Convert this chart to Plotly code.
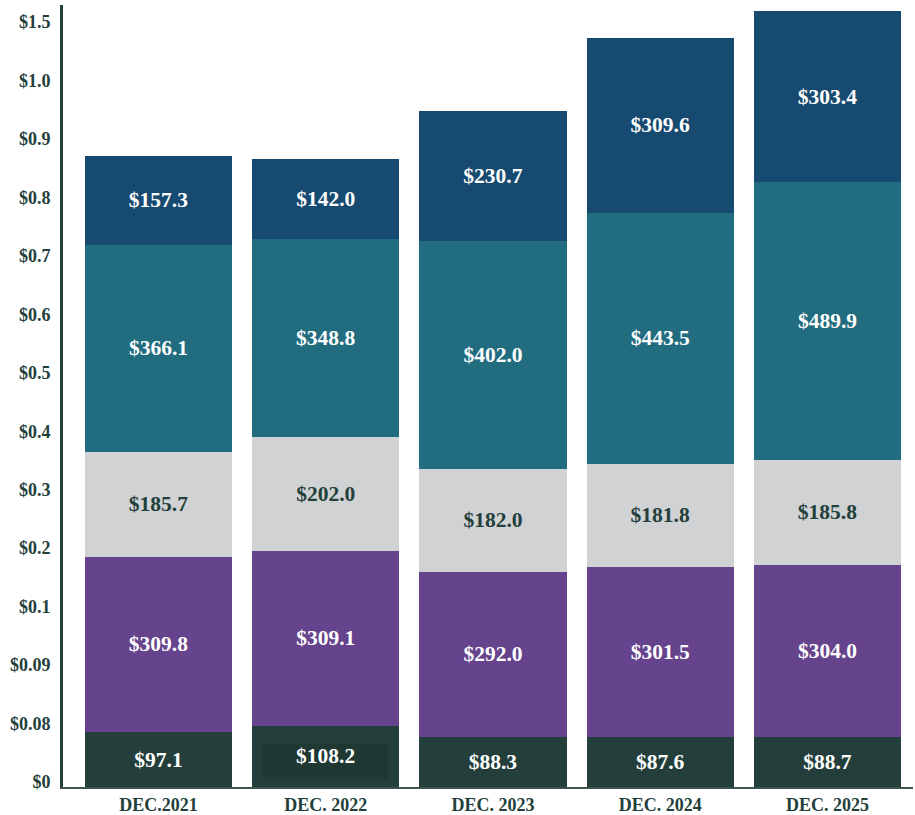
import plotly.graph_objects as go

# Categories and stacked segment values ($ millions), bottom to top
periods = ["DEC.2021", "DEC. 2022", "DEC. 2023", "DEC. 2024", "DEC. 2025"]
seg1 = [97.1, 108.2, 88.3, 87.6, 88.7]
seg2 = [309.8, 309.1, 292.0, 301.5, 304.0]
seg3 = [185.7, 202.0, 182.0, 181.8, 185.8]
seg4 = [366.1, 348.8, 402.0, 443.5, 489.9]
seg5 = [157.3, 142.0, 230.7, 309.6, 303.4]

# Y-axis labels as printed on the axis
y_tick_labels = ["$0", "$0.08", "$0.09", "$0.1", "$0.2", "$0.3", "$0.4",
                 "$0.5", "$0.6", "$0.7", "$0.8", "$0.9", "$1.0", "$1.5"]

INK = "#23403b"
FONT = "Liberation Serif"
LABEL_SIZE = 21.5
TICK_SIZE = 18

series = [
    (seg1, "#243f3b", "white"),
    (seg2, "#65438d", "white"),
    (seg3, "#d1d2d4", INK),
    (seg4, "#216c7f", "white"),
    (seg5, "#174a70", "white"),
]

# index of the base-segment label that sits on a darker backing panel
panel_idx = 1

fig = go.Figure()
for k, (vals, color, tcolor) in enumerate(series):
    labels = [f"${v:.1f}" for v in vals]
    if k == 0:
        labels[panel_idx] = ""
    fig.add_trace(go.Bar(
        x=periods, y=vals,
        marker=dict(color=color, line=dict(width=0)),
        text=labels,
        textposition="inside", insidetextanchor="middle",
        textangle=0,
        textfont=dict(family=FONT, size=LABEL_SIZE, color=tcolor, weight="bold"),
        hoverinfo="skip",
    ))

y_max = 1382
tick_step = 103.3
tick_vals = [9 + i * tick_step for i in range(len(y_tick_labels))]

fig.update_layout(
    barmode="stack",
    bargap=0.12,
    showlegend=False,
    width=915, height=815,
    margin=dict(l=63, r=2, t=5, b=28),
    paper_bgcolor="white", plot_bgcolor="white",
    uniformtext=dict(minsize=LABEL_SIZE, mode="show"),
    xaxis=dict(
        range=[-0.571, 4.511],
        automargin=False,
        showgrid=False, zeroline=False,
        showline=True, linecolor="#3d5450", linewidth=2,
        ticks="", ticklabelstandoff=0,
        tickfont=dict(family=FONT, size=TICK_SIZE, color=INK, weight="bold"),
    ),
    yaxis=dict(
        range=[0, y_max],
        automargin=False,
        showgrid=False, zeroline=False,
        showline=True, linecolor=INK, linewidth=3,
        tickmode="array", tickvals=tick_vals, ticktext=y_tick_labels,
        ticks="", ticklabelstandoff=6,
        tickfont=dict(family=FONT, size=TICK_SIZE, color=INK, weight="bold"),
    ),
)

# Darker backing panel behind the DEC. 2022 base label, with the label on top
fig.add_shape(
    type="rect", xref="x", yref="y",
    x0=panel_idx - 0.38, x1=panel_idx + 0.374, y0=14, y1=76,
    fillcolor="#1f3834", line=dict(width=0), layer="above",
)
fig.add_annotation(
    x=periods[panel_idx], y=seg1[panel_idx] / 2, xref="x", yref="y",
    text=f"${seg1[panel_idx]:.1f}", showarrow=False,
    font=dict(family=FONT, size=LABEL_SIZE, color="white", weight="bold"),
)

fig.write_html("out.html")
